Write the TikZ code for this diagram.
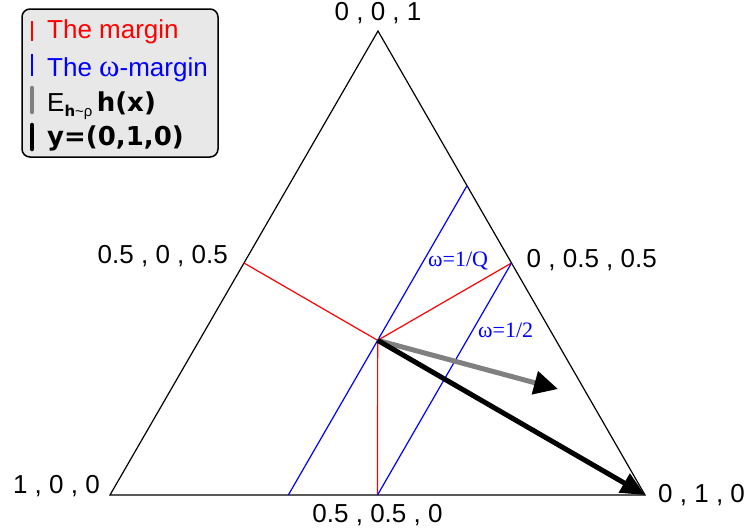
\documentclass[tikz,border=0pt]{standalone}
\usepackage{fontspec}
\setmainfont{Liberation Sans}
\newfontfamily\omegafont{Liberation Serif}
\newfontfamily\heavyfont{DejaVu Sans}
\usetikzlibrary{arrows.meta, positioning, calc}
\tikzset{
    side/.style={draw=black, line width=1.2pt},
    margin/.style={draw=red, line width=1.2pt},
    wmargin/.style={draw=blue, line width=1.2pt},
    corner/.style={font=\fontsize{26}{30}\selectfont, inner sep=0pt, text height=0.72em, text depth=0.15em},
    wlabel/.style={font=\omegafont\fontsize{22}{26}\selectfont, text=blue, inner sep=0pt},
    meanarrow/.style={draw=black!50, line width=5pt, -{Triangle[length=24pt,width=23pt,color=black]}},
    truearrow/.style={draw=black, line width=5pt, -{Triangle[length=24pt,width=21pt]}},
    legendbox/.style={rounded corners=8pt, draw=black, fill=black!9, line width=1.5pt},
    legendtext/.style={font=\fontsize{26}{30}\selectfont, anchor=base west, inner sep=0pt},
    legendbar/.style={line width=1.5pt},
    legendbarthick/.style={line width=4.5pt, line cap=round}
}

\begin{document}
\begin{tikzpicture}[x=1pt, y=-1pt]
    \useasboundingbox (0,0) rectangle (749,528);

    % simplex corners and special points
    \coordinate (a) at (110,495);
    \coordinate (b) at (645,495);
    \coordinate (c) at (378,31);
    \coordinate (ab) at ($(a)!0.5!(b)$);
    \coordinate (bc) at ($(b)!0.5!(c)$);
    \coordinate (ac) at ($(a)!0.5!(c)$);
    \coordinate (g) at ($(a)!2/3!(bc)$);
    \coordinate (q1) at ($(a)!1/3!(b)$);
    \coordinate (q2) at ($(c)!1/3!(b)$);
    \coordinate (hmean) at (558,389);

    \draw[side] (a) -- (b) -- (c) -- cycle;

    % margin
    \draw[margin] (g) -- (ac);
    \draw[margin] (g) -- (bc);
    \draw[margin] (g) -- (ab);

    % omega-margin
    \draw[wmargin] (q1) -- (q2);
    \draw[wmargin] (ab) -- (bc);

    \draw[meanarrow] (g) -- (hmean);
    \draw[truearrow] (g) -- (b);

    % corner labels
    \node[corner, anchor=base, above=9pt of c] (lc) {0 , 0 , 1};
    \node[corner, anchor=base east] (lac) at ([xshift=-16pt]ac) {0.5 , 0 , 0.5};
    \node[corner, anchor=base west] (lbc) at ([xshift=15pt,yshift=-4pt]bc) {0 , 0.5 , 0.5};
    \node[corner, anchor=base east] (la) at ([xshift=-10pt,yshift=2pt]a) {1 , 0 , 0};
    \node[corner, anchor=base west] (lb) at ([xshift=13pt,yshift=-7pt]b) {0 , 1 , 0};
    \node[corner, anchor=base] (lab) at ([yshift=-27pt]ab) {0.5 , 0.5 , 0};

    \node[wlabel, anchor=base west] (w1) at (428,266) {ω=1/Q};
    \node[wlabel, anchor=base west] (w2) at (478,337) {ω=1/2};

    % legend
    \draw[legendbox] (22,9) rectangle (218,157);
    \draw[legendbar, red] (32,21) -- (32,41);
    \draw[legendbar, blue] (32,54) -- (32,76);
    \draw[legendbarthick, black!50] (32,88) -- (32,112);
    \draw[legendbarthick, black] (32,125) -- (32,149);
    \node[legendtext, text=red] (l1) at (47,38) {The margin};
    \node[legendtext, text=blue] (l2) at (47,76) {The {\omegafont\fontsize{31}{30}\selectfont ω}-margin};
    \node[legendtext] (l3) at (47,111) {E\raisebox{-5pt}{\fontsize{15}{15}\selectfont{\heavyfont\bfseries h}\textasciitilde ρ}\,{\heavyfont\bfseries h(x)}};
    \node[legendtext] (l4) at (47,145) {\heavyfont\bfseries y=(0,1,0)};
\end{tikzpicture}
\end{document}
